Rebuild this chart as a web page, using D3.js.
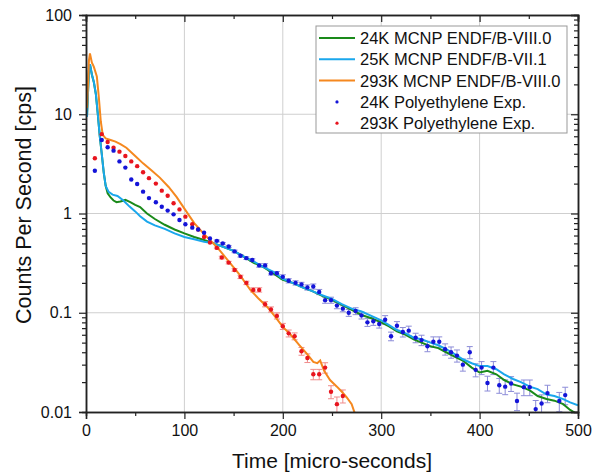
<html>
<head>
	<script src="https://cdnjs.cloudflare.com/ajax/libs/d3/7.8.5/d3.min.js"></script>
	<style>
		body { margin: 0; background: #fff; }
		text { font-family: "Liberation Sans", Arial, sans-serif; fill: #111; }
	</style>
</head>
<body>
	<script type="text/javascript">

		// simulated curves: [time, cps]
		var green24 = [[1,9.4],[3,28],[4,32],[6,25],[8,21],[10,16],[12,10],[14,6],[16,4],[18,2.6],[20,1.9],[22,1.6],[25,1.45],[28,1.35],[31,1.3],[35,1.32],[40,1.37],[45,1.3],[50,1.22],[55,1.16],[62,1.0],[70,0.88],[80,0.77],[90,0.69],[100,0.63],[110,0.58],[120,0.54],[130,0.5],[140,0.46],[150,0.42],[160,0.37],[170,0.32],[180,0.29],[190,0.25],[200,0.215],[210,0.2],[220,0.18],[230,0.165],[240,0.148],[250,0.135],[260,0.12],[270,0.107],[280,0.095],[290,0.088],[300,0.08],[308,0.073],[316,0.065],[325,0.06],[333,0.054],[341,0.05],[350,0.046],[358,0.044],[366,0.04],[375,0.036],[383,0.033],[392,0.028],[400,0.025],[408,0.026],[417,0.024],[425,0.021],[434,0.019],[442,0.018],[451,0.0165],[459,0.0145],[468,0.0135],[476,0.013],[485,0.012],[492,0.0105],[497,0.0098]];
		var blue25 = [[1,9.4],[3,28],[4,32],[6,25],[8,21],[10,16],[12,10],[14,6],[16,4],[18,2.6],[20,1.9],[23,1.65],[27,1.55],[32,1.5],[38,1.35],[44,1.18],[50,1.05],[55,0.94],[62,0.83],[70,0.76],[80,0.7],[90,0.63],[100,0.58],[110,0.55],[120,0.52],[130,0.5],[140,0.46],[150,0.42],[160,0.37],[170,0.33],[180,0.29],[190,0.26],[200,0.22],[210,0.2],[220,0.18],[230,0.165],[240,0.15],[250,0.138],[260,0.122],[270,0.11],[280,0.103],[290,0.093],[300,0.084],[308,0.075],[316,0.067],[325,0.062],[333,0.056],[341,0.054],[350,0.05],[358,0.047],[366,0.043],[375,0.038],[383,0.034],[392,0.031],[400,0.029],[408,0.029],[417,0.027],[425,0.024],[434,0.0215],[442,0.02],[451,0.018],[459,0.017],[468,0.015],[476,0.0145],[485,0.0135],[492,0.0125],[500,0.0117]];
		var orange293 = [[1,11.6],[3,35],[4,41],[6,33],[8,30],[11,24],[13,15],[15,8.5],[17,6.2],[20,5.7],[25,5.5],[30,5.3],[35,5.0],[41,4.6],[50,3.8],[58,3.2],[67,2.7],[75,2.3],[84,1.85],[92,1.47],[100,1.12],[110,0.8],[120,0.62],[133,0.46],[145,0.33],[155,0.25],[167,0.17],[175,0.14],[184,0.115],[192,0.092],[200,0.072],[208,0.06],[217,0.047],[225,0.038],[231,0.032],[235,0.031],[238,0.033],[242,0.026],[248,0.021],[255,0.018],[260,0.016],[265,0.014],[270,0.012],[273,0.0098]];

		// measured points
		var exp24T = [9,16,22,28,34,40,46,52,58,64,71,77,83,89,95,101,108,114,120,126,133,139,145,151,157,163,169,176,182,188,194,200,206,213,219,225,231,237,243,249,255,261,267,274,280,286,292,298,304,310,316,322,328,335,341,347,353,359,365,371,377,383,390,396,402,408,414,420,426,432,438,445,451,457,463,469,481,487];
		var exp24V = [2.7,5.5,4.65,4.3,3.35,2.9,2.2,1.98,1.66,1.43,1.3,1.17,1.07,0.98,0.86,0.78,0.72,0.69,0.64,0.56,0.53,0.5,0.465,0.415,0.375,0.355,0.34,0.3,0.3,0.25,0.25,0.23,0.21,0.2,0.193,0.18,0.184,0.162,0.134,0.134,0.118,0.11,0.1,0.104,0.094,0.08,0.082,0.077,0.085,0.058,0.074,0.064,0.066,0.056,0.053,0.046,0.051,0.051,0.043,0.04,0.037,0.03,0.04,0.0266,0.028,0.0196,0.028,0.0186,0.018,0.0194,0.0129,0.0178,0.0178,0.0107,0.0122,0.0155,0.0129,0.0148];
		// relative error (fraction)
		var exp24E = [0,0,0,0,0,0,0,0,0,0,0,0,0,0,0,0,0,0,0,0,0.02,0.02,0.02,0.03,0.03,0.03,0.03,0.04,0.04,0.04,0.04,0.05,0.05,0.05,0.05,0.06,0.06,0.06,0.07,0.07,0.07,0.07,0.08,0.08,0.08,0.09,0.09,0.09,0.1,0.1,0.1,0.11,0.11,0.11,0.12,0.12,0.12,0.12,0.13,0.13,0.14,0.14,0.14,0.15,0.15,0.17,0.15,0.17,0.17,0.17,0.2,0.18,0.18,0.22,0.22,0.2,0.22,0.2];

		var exp293T = [9,16,22,28,34,40,46,52,58,64,71,77,83,89,95,101,108,114,120,126,133,138,145,151,157,163,170,176,182,188,194,200,206,212,219,225,231,237,243,249,255,261];
		var exp293V = [3.6,6.3,5.25,4.6,4.2,3.8,3.35,3.0,2.6,2.27,2.0,1.7,1.51,1.27,1.1,0.93,0.78,0.69,0.58,0.51,0.45,0.36,0.32,0.27,0.23,0.2,0.17,0.17,0.122,0.108,0.093,0.073,0.062,0.058,0.041,0.035,0.024,0.024,0.028,0.016,0.012,0.0145];
		var exp293E = [0,0,0,0,0,0,0,0,0,0,0,0,0,0,0,0,0,0,0,0,0.02,0.03,0.03,0.03,0.04,0.04,0.05,0.05,0.06,0.06,0.07,0.07,0.08,0.08,0.09,0.1,0.12,0.12,0.12,0.15,0.18,0.15];

		var xTicks = [0,100,200,300,400,500];
		var yTicks = [0.01,0.1,1,10,100];
		var yTickLabels = ["0.01","0.1","1","10","100"];

		var legendNames = ["24K MCNP ENDF/B-VIII.0","25K MCNP ENDF/B-VII.1","293K MCNP ENDF/B-VIII.0","24K Polyethylene Exp.","293K Polyethylene Exp."];

		var width = 600, height = 474;
		var pLeft = 86, pRight = 578, pTop = 15, pBottom = 412;

		var svg = d3.select("body").append("svg")
			.attr("width", width)
			.attr("height", height);

		var x = d3.scaleLinear().domain([0,500]).range([pLeft,pRight]);
		var y = d3.scaleLog().domain([0.01,100]).range([pBottom,pTop]);

		var minorY = [];
		[0.01,0.1,1,10].forEach(function(d){
			for (var k = 2; k <= 9; k++) minorY.push(d*k);
		});
		var minorX = [50,150,250,350,450];

		// grid
		svg.append("g").selectAll("line")
			.data([100,200,300,400])
			.enter().append("line")
			.attr("x1", function(d){ return x(d); })
			.attr("x2", function(d){ return x(d); })
			.attr("y1", pTop).attr("y2", pBottom)
			.attr("stroke", "#cfcfcf").attr("stroke-width", 1);
		svg.append("g").selectAll("line")
			.data([0.1,1,10])
			.enter().append("line")
			.attr("y1", function(d){ return y(d); })
			.attr("y2", function(d){ return y(d); })
			.attr("x1", pLeft).attr("x2", pRight)
			.attr("stroke", "#cfcfcf").attr("stroke-width", 1);

		svg.append("clipPath").attr("id","plotclip")
			.append("rect").attr("x",pLeft).attr("y",pTop)
			.attr("width",pRight-pLeft).attr("height",pBottom-pTop);

		var plot = svg.append("g").attr("clip-path","url(#plotclip)");

		var line = d3.line()
			.x(function(d){ return x(d[0]); })
			.y(function(d){ return y(d[1]); });

		// error bars
		function errorBars(T, V, E, color) {
			var pts = T.map(function(t,i){ return {t:t, v:V[i], e:E[i]}; })
				.filter(function(d){ return d.e > 0; });
			var g = plot.append("g").attr("stroke", color).attr("stroke-width", 1);
			g.selectAll(".v").data(pts).enter().append("line")
				.attr("x1", function(d){ return x(d.t); })
				.attr("x2", function(d){ return x(d.t); })
				.attr("y1", function(d){ return y(d.v*(1+d.e)); })
				.attr("y2", function(d){ return y(d.v*(1-d.e)); });
			["hi","lo"].forEach(function(side){
				g.selectAll("." + side).data(pts).enter().append("line")
					.attr("x1", function(d){ return x(d.t)-3; })
					.attr("x2", function(d){ return x(d.t)+3; })
					.attr("y1", function(d){ return y(d.v*(side=="hi" ? 1+d.e : 1-d.e)); })
					.attr("y2", function(d){ return y(d.v*(side=="hi" ? 1+d.e : 1-d.e)); });
			});
		}
		errorBars(exp293T, exp293V, exp293E, "#f08c8c");
		errorBars(exp24T, exp24V, exp24E, "#8c8cd8");

		plot.append("path").datum(green24).attr("d", line)
			.attr("fill","none").attr("stroke","#1a8a1a").attr("stroke-width",2);
		plot.append("path").datum(blue25).attr("d", line)
			.attr("fill","none").attr("stroke","#1aa7ec").attr("stroke-width",2);
		plot.append("path").datum(orange293).attr("d", line)
			.attr("fill","none").attr("stroke","#f5881f").attr("stroke-width",2);

		plot.append("g").selectAll("circle")
			.data(exp293T)
			.enter().append("circle")
			.attr("cx", function(d){ return x(d); })
			.attr("cy", function(d,i){ return y(exp293V[i]); })
			.attr("r", 2.2).attr("fill", "#e8141e");
		plot.append("g").selectAll("circle")
			.data(exp24T)
			.enter().append("circle")
			.attr("cx", function(d){ return x(d); })
			.attr("cy", function(d,i){ return y(exp24V[i]); })
			.attr("r", 2.2).attr("fill", "#1414d8");

		// axes
		var axisColor = "#222";
		svg.append("g").attr("transform","translate(0,"+pBottom+")")
			.call(d3.axisBottom(x).tickValues(xTicks).tickSize(7).tickPadding(6).tickFormat(d3.format("d")));
		svg.append("g").attr("transform","translate(0,"+pBottom+")")
			.call(d3.axisBottom(x).tickValues(minorX).tickSize(4).tickFormat(""));
		svg.append("g").attr("transform","translate(0,"+pTop+")")
			.call(d3.axisBottom(x).tickValues(xTicks).tickSize(7).tickFormat(""));
		svg.append("g").attr("transform","translate(0,"+pTop+")")
			.call(d3.axisBottom(x).tickValues(minorX).tickSize(4).tickFormat(""));
		svg.append("g").attr("transform","translate("+pLeft+",0)")
			.call(d3.axisLeft(y).tickValues(yTicks).tickSize(7).tickPadding(7)
				.tickFormat(function(d,i){ return yTickLabels[i]; }));
		svg.append("g").attr("transform","translate("+pLeft+",0)")
			.call(d3.axisLeft(y).tickValues(minorY).tickSize(4).tickFormat(""));
		svg.append("g").attr("transform","translate("+pRight+",0)")
			.call(d3.axisLeft(y).tickValues(yTicks).tickSize(7).tickFormat(""));
		svg.append("g").attr("transform","translate("+pRight+",0)")
			.call(d3.axisLeft(y).tickValues(minorY).tickSize(4).tickFormat(""));

		svg.selectAll(".domain").attr("stroke", axisColor).attr("stroke-width", 1.5);
		svg.selectAll(".tick line").attr("stroke", axisColor).attr("stroke-width", 1.2);
		svg.selectAll(".tick text").attr("font-size", 16).attr("fill", "#111")
			.attr("font-family", "'Liberation Sans', Arial, sans-serif");

		svg.append("text")
			.attr("x", (pLeft+pRight)/2).attr("y", 468)
			.attr("text-anchor","middle").attr("font-size", 21)
			.text("Time [micro-seconds]");
		svg.append("text")
			.attr("transform", "translate(31,205) rotate(-90)")
			.attr("text-anchor","middle").attr("font-size", 21.5)
			.text("Counts Per Second [cps]");

		// legend
		var lg = svg.append("g");
		lg.append("rect").attr("x",316).attr("y",26).attr("width",251).attr("height",107)
			.attr("fill","#fff").attr("stroke","#999").attr("stroke-width",1);
		var legendColors = ["#1a8a1a","#1aa7ec","#f5881f","#1414d8","#e8141e"];
		var rows = lg.selectAll("g.row").data(legendNames).enter().append("g")
			.attr("transform", function(d,i){ return "translate(0," + (38 + i*21.3) + ")"; });
		rows.each(function(d,i){
			var r = d3.select(this);
			if (i < 3) {
				r.append("line").attr("x1",319).attr("x2",355).attr("y1",0).attr("y2",0)
					.attr("stroke", legendColors[i]).attr("stroke-width",2);
			} else {
				r.append("circle").attr("cx",337).attr("cy",0).attr("r",1.6).attr("fill",legendColors[i]);
			}
			r.append("text").attr("x",360).attr("y",6).attr("font-size",16.5).text(d);
		});

	</script>
</body>
</html>
